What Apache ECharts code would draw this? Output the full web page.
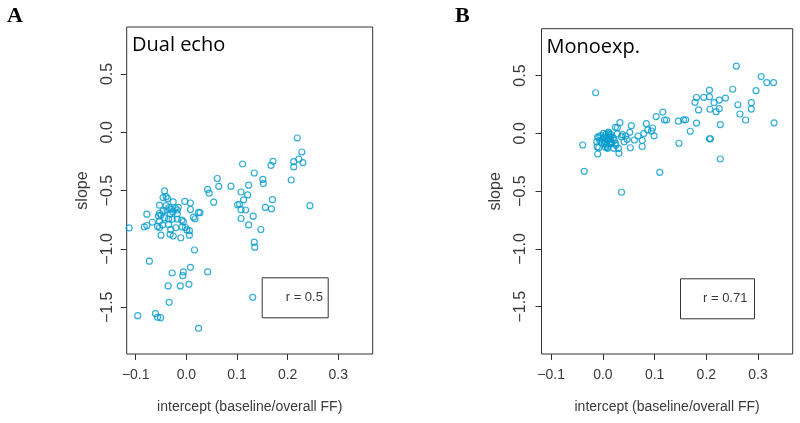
<!DOCTYPE html>
<html>
<head>
<meta charset="utf-8">
<script src="https://cdn.jsdelivr.net/npm/echarts@6/dist/echarts.min.js"></script>
<style>
html,body{margin:0;padding:0;background:#fff;}
#chart{width:800px;height:423px;}
</style>
</head>
<body>
<div id="chart"></div>
<script>
// ---- data ----
const xTicks = [-0.1, 0.0, 0.1, 0.2, 0.3];
const yTicks = [-1.5, -1.0, -0.5, 0.0, 0.5];
const panelLetters = ['A', 'B'];
const panelTitles = ['Dual echo', 'Monoexp.'];
const rLabels = ['r = 0.5', 'r = 0.71'];
const xAxisName = 'intercept (baseline/overall FF)';
const yAxisName = 'slope';

const dualX = [0.219,0.228,0.212,0.222,0.230,0.212,0.207,0.111,0.171,0.167,0.134,0.151,0.152,0.061,0.064,0.088,0.123,0.042,0.045,0.108,
  0.121,0.054,0.113,0.101,0.105,0.170,0.108,0.117,0.156,0.168,0.244,0.108,0.132,0.123,0.147,0.134,0.135,0.131,0.027,-0.113,
  -0.083,-0.078,-0.067,-0.057,-0.053,-0.050,-0.035,-0.032,-0.026,-0.021,-0.011,-0.008,-0.002,0.006,0.006,0.016,-0.073,-0.028,-0.006,-0.007,
  0.008,0.042,-0.036,-0.012,0.005,-0.034,-0.096,-0.061,-0.057,-0.051,0.024,-0.043,-0.046,-0.037,-0.053,-0.026,-0.003,0.008,-0.040,-0.034,
  -0.030,-0.038,-0.016,-0.022,-0.018,-0.046,-0.027,-0.032,-0.018,-0.053,-0.050,-0.055,0.008,0.024,0.014,0.017,-0.078,-0.043,-0.035,-0.028,
  -0.018,-0.009,-0.006,-0.053,-0.047,-0.031,0.001,-0.040];
const dualY = [-0.049,-0.169,-0.252,-0.231,-0.260,-0.297,-0.409,-0.272,-0.249,-0.283,-0.349,-0.404,-0.440,-0.396,-0.463,-0.462,-0.453,-0.490,-0.522,-0.512,
  -0.537,-0.599,-0.580,-0.621,-0.617,-0.578,-0.663,-0.666,-0.644,-0.656,-0.629,-0.739,-0.719,-0.794,-0.833,-0.942,-0.985,-1.414,-0.689,-0.820,
  -0.811,-0.799,-0.771,-0.807,-0.818,-0.882,-0.790,-0.874,-0.889,-0.818,-0.904,-0.811,-0.816,-0.843,-0.882,-1.009,-1.105,-1.206,-1.197,-1.229,
  -1.157,-1.197,-1.317,-1.317,-1.303,-1.457,-1.572,-1.554,-1.585,-1.589,-1.680,-0.503,-0.560,-0.569,-0.625,-0.597,-0.593,-0.606,-0.629,-0.646,
  -0.660,-0.666,-0.643,-0.651,-0.666,-0.674,-0.683,-0.698,-0.700,-0.694,-0.709,-0.717,-0.662,-0.687,-0.728,-0.741,-0.702,-0.734,-0.743,-0.746,
  -0.743,-0.752,-0.766,-0.763,-0.794,-0.835,-0.837,-0.552];

const monoX = [0.258,0.306,0.317,0.330,-0.014,0.251,0.296,0.206,0.181,0.195,0.206,0.178,0.215,0.225,0.237,0.185,0.207,0.219,0.225,0.261,
  0.287,0.287,0.265,0.276,0.331,0.116,0.103,0.119,0.123,0.146,0.156,0.160,0.181,0.227,0.169,0.084,0.087,0.096,0.094,0.079,
  0.099,0.076,0.147,0.206,0.208,0.076,0.227,0.110,-0.036,-0.039,0.036,0.068,0.061,0.055,0.052,0.047,0.038,0.028,0.033,0.028,
  0.053,0.024,0.031,0.030,0.014,-0.010,-0.011,0.044,0.041,0.036,0.021,0.025,0.015,0.009,-0.008,-0.012,0.011,0.024,
  -0.008,-0.004,0.000,0.002,0.004,0.006,0.008,0.010,0.012,0.014,0.016,0.018,0.020,0.003,0.007,-0.006,-0.002,0.011,0.015,0.001,
  0.022,-0.010,0.005,0.013,0.009];
const monoY = [0.582,0.491,0.439,0.439,0.351,0.381,0.369,0.373,0.310,0.311,0.316,0.268,0.265,0.288,0.305,0.202,0.208,0.187,0.213,0.247,
  0.265,0.210,0.167,0.115,0.091,0.184,0.145,0.115,0.115,0.105,0.117,0.117,0.089,0.076,0.018,0.083,0.029,0.046,0.020,-0.002,
  -0.022,-0.062,-0.086,-0.047,-0.047,-0.114,-0.222,-0.337,-0.329,-0.101,-0.510,-0.023,-0.058,0.066,0.009,-0.052,-0.012,-0.006,0.092,0.048,
  -0.125,-0.087,-0.173,-0.130,-0.073,-0.179,-0.116,-0.023,-0.073,-0.029,-0.130,-0.104,-0.087,-0.121,-0.125,-0.073,0.000,0.052,
  -0.040,-0.020,-0.050,-0.030,-0.070,-0.010,-0.040,-0.060,-0.020,-0.050,-0.030,-0.080,-0.040,-0.090,-0.100,-0.060,-0.080,0.010,-0.010,0.000,
  -0.060,-0.030,-0.120,-0.090,-0.130];

// ---- chart ----
const zip = (xs, ys) => xs.map((x, i) => [x, ys[i]]);
const fmt = v => (v < 0 ? '\u2212' : '') + Math.abs(v).toFixed(1);
const textColor = '#3a3a3a';
const axisFont = 'Liberation Sans, Arial, sans-serif';
const pointColor = '#009ACD';

const grids = [
  {left: 126.7, top: 27, width: 246, height: 327},
  {left: 541.5, top: 28.7, width: 251.2, height: 325.3}
];
const xRanges = [[-0.1178, 0.3679], [-0.1187, 0.367]];
const yRanges = [[-1.900, 0.902], [-1.909, 0.905]];
const yLabelMargins = [11, 12.5];
const yNameGaps = [36, 38];

function xAxisFor(i) {
  return {
    type: 'value', gridIndex: i, position: 'bottom', min: xRanges[i][0], max: xRanges[i][1],
    splitLine: {show: false},
    axisLine: {show: false, onZero: false},
    axisTick: {show: true, length: 6, customValues: xTicks, lineStyle: {color: '#333', width: 1}},
    axisLabel: {customValues: xTicks, formatter: fmt, margin: 14, fontSize: 14, color: textColor, fontFamily: axisFont},
    name: xAxisName, nameLocation: 'middle', nameGap: 46,
    nameTextStyle: {fontSize: 14, color: textColor, fontFamily: axisFont}
  };
}
function yAxisFor(i) {
  return {
    type: 'value', gridIndex: i, position: 'left', min: yRanges[i][0], max: yRanges[i][1],
    splitLine: {show: false},
    axisLine: {show: false, onZero: false},
    axisTick: {show: true, length: 6, customValues: yTicks, lineStyle: {color: '#333', width: 1}},
    axisLabel: {customValues: yTicks, formatter: fmt, rotate: 90, margin: yLabelMargins[i], fontSize: 16, color: textColor, fontFamily: axisFont},
    name: yAxisName, nameLocation: 'middle', nameGap: yNameGaps[i],
    nameTextStyle: {fontSize: 16, color: textColor, fontFamily: axisFont}
  };
}
function seriesFor(i, data) {
  return {
    type: 'scatter', xAxisIndex: i, yAxisIndex: i, data: data,
    symbol: 'circle', symbolSize: 6,
    itemStyle: {color: 'rgba(0,0,0,0)', borderColor: pointColor, borderWidth: 1.2},
    emphasis: {disabled: true}, silent: true, animation: false
  };
}

const rBoxes = [
  {left: 261.7, top: 277.3, padding: [14, 6, 14, 24]},
  {left: 680, top: 278.3, padding: [14, 7, 14, 23]}
];

const chart = echarts.init(document.getElementById('chart'), null, {renderer: 'canvas'});
chart.setOption({
  animation: false,
  backgroundColor: '#fff',
  grid: grids.map(g => Object.assign({show: true, borderColor: '#333', borderWidth: 1, backgroundColor: 'transparent', containLabel: false}, g)),
  xAxis: [xAxisFor(0), xAxisFor(1)],
  yAxis: [yAxisFor(0), yAxisFor(1)],
  title: rLabels.map((t, i) => ({
    text: t, left: rBoxes[i].left, top: rBoxes[i].top, padding: rBoxes[i].padding,
    borderColor: '#333', borderWidth: 1,
    textStyle: {fontSize: 13, fontWeight: 'normal', color: textColor, fontFamily: axisFont, lineHeight: 13}
  })),
  graphic: [
    {type: 'text', x: 7, y: 16, style: {text: panelLetters[0], font: 'bold 22px "Liberation Serif", serif', fill: '#000', textAlign: 'left', textVerticalAlign: 'middle', align: 'left', verticalAlign: 'middle'}},
    {type: 'text', x: 455, y: 16, style: {text: panelLetters[1], font: 'bold 22px "Liberation Serif", serif', fill: '#000', textAlign: 'left', textVerticalAlign: 'middle', align: 'left', verticalAlign: 'middle'}},
    {type: 'text', x: 132, y: 45.5, style: {text: panelTitles[0], font: '20px "Open Sans", sans-serif', fill: '#000', textAlign: 'left', textVerticalAlign: 'middle', align: 'left', verticalAlign: 'middle'}},
    {type: 'text', x: 546.5, y: 47.5, style: {text: panelTitles[1], font: '20px "Open Sans", sans-serif', fill: '#000', textAlign: 'left', textVerticalAlign: 'middle', align: 'left', verticalAlign: 'middle'}}
  ],
  series: [seriesFor(0, zip(dualX, dualY)), seriesFor(1, zip(monoX, monoY))]
});
</script>
</body>
</html>
